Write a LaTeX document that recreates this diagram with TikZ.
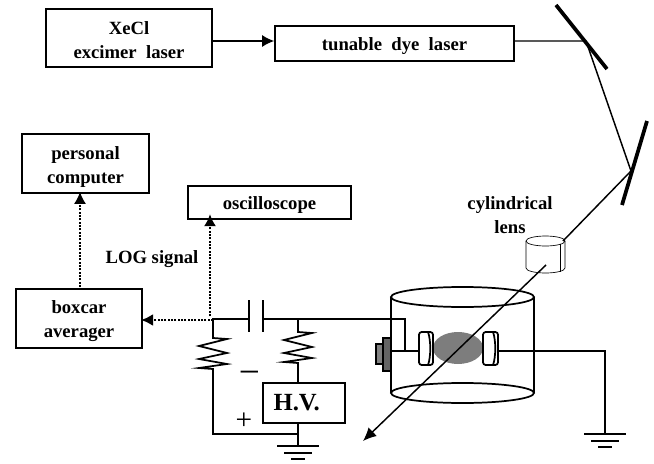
\documentclass[tikz,border=0pt]{standalone}
\usepackage{fontspec}
\setmainfont{Liberation Serif}
\usetikzlibrary{arrows.meta}
\newcommand{\topgap}[1]{\rule{0pt}{#1}}
\tikzset{every picture/.style={line width=0.75pt}}
\tikzset{
	instbox/.style={draw,line width=1.5,inner sep=0pt,align=center,font=\bfseries\fontsize{14}{18}\selectfont},
	labeltext/.style={align=center,font=\bfseries\fontsize{14}{18}\selectfont},
	wire/.style={line width=1.3,line join=miter},
	beam/.style={line width=1.1},
	signal/.style={line width=1.3,dash pattern=on 1.4pt off 1.1pt,shorten >=-1.5,-{Latex[length=9pt,width=9pt]}},
	mirror/.style={line width=2.8},
	resistor/.pic={\draw [wire,yscale=-1] (0,0) -- (0,3) -- (14,4) -- (-14,11) -- (14,18) -- (-14,24) -- (14,29) -- (-14,33) -- (0,34) -- (0,37);},
	groundmark/.pic={\draw [wire,yscale=-1] (-21,0) -- (21,0) (-14,7) -- (14,7) (-7,13) -- (7,13);}
}

\begin{document}
\begin{tikzpicture}[x=0.75pt,y=0.75pt,yscale=-1,xscale=1]
	\useasboundingbox (0,0) rectangle (654,464);

	%Boxes
	\node [instbox,minimum width=124.5,minimum height=43.5] (xecl) at (129,38) {\topgap{12.5pt}XeCl\\excimer\ \ laser};
	\node [instbox,minimum width=179,minimum height=26] (tunable) at (394.5,43.5) {\topgap{13.5pt}tunable\ \ dye\ \ laser};
	\node [instbox,minimum width=95,minimum height=44] (computer) at (85.5,163.5) {\topgap{15pt}personal\\computer};
	\node [instbox,minimum width=122,minimum height=25] (scope) at (269.5,202.5) {\topgap{13.5pt}oscilloscope};
	\node [instbox,minimum width=94.5,minimum height=44] (boxcar) at (79,318.5) {\topgap{14pt}boxcar\\averager};
	\node [instbox,minimum width=61.5,minimum height=30,font=\bfseries\fontsize{18.5}{20}\selectfont] (hv) at (304,403) {H.V.\hspace*{11pt}};

	%Labels
	\node [labeltext] (logsignal) at (152,259) {LOG signal};
	\node [labeltext] (lenslabel) at (510,215) {cylindrical\\lens};
	\node [font=\fontsize{22}{22}\selectfont] (plus) at (244,421) {+};
	\node [font=\fontsize{28}{28}\selectfont] (minus) at (249.5,378) {\textminus};

	%Coordinates
	\coordinate (mirrorone) at (586,41);
	\coordinate (mirrortwo) at (631,171);
	\coordinate (junction) at (213,320);
	\coordinate (scopetap) at (210,316);
	\coordinate (boxcartap) at (80,287);
	\coordinate (capleft) at (249,319);
	\coordinate (capright) at (263,319);
	\coordinate (tee) at (298,319);
	\coordinate (corner) at (405,319);
	\coordinate (cathode) at (405,351);
	\coordinate (bottomleft) at (213,434);
	\coordinate (bottomtee) at (298,434);
	\coordinate (groundone) at (298,446);
	\coordinate (groundtwo) at (605,434);
	\coordinate (rightcorner) at (605,351);

	%Laser beam
	\draw [beam,-{Latex[length=9pt,width=9pt]}] (xecl.east|-mirrorone) -- (tunable.west|-mirrorone);
	\draw [beam] (tunable.east|-mirrorone) -- (mirrorone) -- (mirrortwo) -- (563,241);

	%Mirrors
	\draw [mirror] (556,5) -- (607,69);
	\draw [mirror] (647,121) -- (622,205);

	%Cylindrical lens
	\draw [line width=0.5] (526,241) -- (526,268) arc [start angle=180,end angle=360,x radius=19.5,y radius=-5] -- (565,241);
	\draw [line width=0.5] (545.5,241) ellipse [x radius=19.5,y radius=5];
	\draw [line width=0.5] (560,244) -- (560,272);

	%Chamber
	\draw [wire] (391,297) -- (391,393);
	\draw [wire] (534,297) -- (534,393);
	\draw [wire] (462.5,297) ellipse [x radius=71.5,y radius=10];
	\draw [wire] (462.5,393) ellipse [x radius=71.5,y radius=10];
	\draw [fill={rgb, 255:red, 130; green, 130; blue, 130 },draw=black,line width=0.9] (376,344) rectangle (383,364);
	\draw [fill={rgb, 255:red, 100; green, 100; blue, 100 },draw=black,line width=0.9] (383,338) rectangle (391,371);

	%Discharge and electrodes
	\fill [fill={rgb, 255:red, 125; green, 125; blue, 125 }] (458,348) ellipse [x radius=25,y radius=16];
	\draw [beam,-{Latex[length=10pt,width=9pt]}] (546,265) -- (363,441);
	\draw [wire,fill=white,rounded corners=2] (419,332) rectangle (433,365);
	\draw [wire] (428,332) .. controls (431,340) and (431,357) .. (428,365);
	\draw [wire,fill=white,rounded corners=2] (483,332) rectangle (498,365);
	\draw [wire] (493,332) .. controls (496,340) and (496,357) .. (493,365);

	%Circuit
	\draw [wire] (capleft) -- (213,319) -- (213,335);
	\pic at (213,335) {resistor};
	\draw [wire] (213,372) -- (bottomleft) -- (bottomtee);
	\draw [wire] (capright) -- (tee) -- (corner) -- (cathode);
	\draw [wire] (tee) -- (298,329);
	\pic at (298,329) {resistor};
	\draw [wire] (298,366) -- (hv.north-|tee);
	\draw [wire] (hv.south-|tee) -- (groundone);
	\pic at (groundone) {groundmark};
	\draw [wire] (249,300) -- (capleft) -- (249,332);
	\draw [wire] (263,300) -- (capright) -- (263,332);
	\draw [wire] (391,351) -- (419,351);
	\draw [wire] (498,351) -- (rightcorner) -- (groundtwo);
	\pic at (groundtwo) {groundmark};

	%Signal lines
	\draw [signal,line width=1.8] (junction) -- (boxcar.east|-junction);
	\draw [signal] (scopetap) -- ([yshift=-3]scope.south-|scopetap);
	\draw [signal] (boxcartap) -- (computer.south-|boxcartap);
\end{tikzpicture}
\end{document}
